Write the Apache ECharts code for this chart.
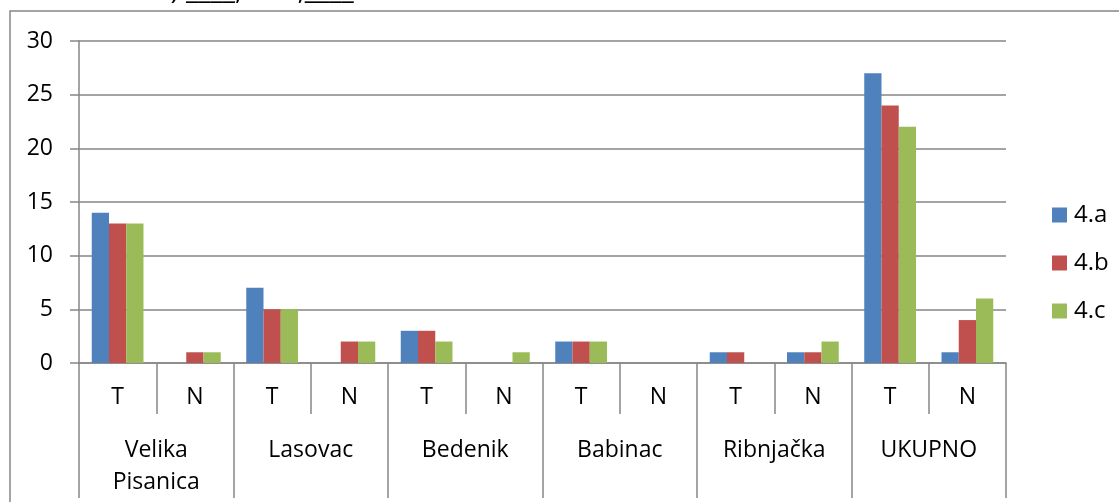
<!DOCTYPE html>
<html><head><meta charset="utf-8">
<script src="https://cdn.jsdelivr.net/npm/echarts@6/dist/echarts.min.js"></script>
<style>html,body{margin:0;padding:0;background:#fff}#c{width:1119px;height:502px}</style>
</head><body><div id="c"></div>
<script>
const groups = ['Velika\nPisanica', 'Lasovac', 'Bedenik', 'Babinac', 'Ribnjačka', 'UKUPNO'];
const subCats = ['T', 'N'];
const seriesNames = ['4.a', '4.b', '4.c'];
const s4a = [14, 0, 7, 0, 3, 0, 2, 0, 1, 1, 27, 1];
const s4b = [13, 1, 5, 2, 3, 0, 2, 0, 1, 1, 24, 4];
const s4c = [13, 1, 5, 2, 2, 1, 2, 0, 0, 2, 22, 6];
const yTicks = [0, 5, 10, 15, 20, 25, 30];
const colors = ['#4F81BD', '#C0504D', '#9BBB59'];

const cats = [];
groups.forEach(() => subCats.forEach(s => cats.push(s)));
const FONT = 'Open Sans';
const gray = '#868686';
const chart = echarts.init(document.getElementById('c'));
chart.setOption({
  animation: false,
  textStyle: { fontFamily: FONT },
  grid: { left: 79, right: 113, top: 41, bottom: 139, containLabel: false },
  legend: {
    orient: 'vertical', left: 1047, top: 197, itemWidth: 15, itemHeight: 15, itemGap: 22,
    icon: 'rect',
    textStyle: { fontFamily: FONT, fontSize: 24, color: '#000', padding: [0, 0, 0, 2], lineHeight: 26 },
    data: seriesNames
  },
  graphic: [
    { type: 'rect', shape: { x: 10, y: 11, width: 1300, height: 700 }, style: { fill: 'none', stroke: gray, lineWidth: 1.5 }, silent: true },
    { type: 'text', left: 157, top: -23, style: { text: 'c) ____, 300,____', font: '28px "Open Sans"', fill: '#000' } }
  ],
  xAxis: [
    {
      type: 'category', data: cats, position: 'bottom',
      axisLine: { lineStyle: { color: gray, width: 1.5 } },
      axisTick: { show: true, interval: 0, length: 51, lineStyle: { color: gray, width: 1.5 } },
      axisLabel: { interval: 0, margin: 23, fontSize: 23, color: '#000', fontFamily: FONT }
    },
    {
      type: 'category', data: groups, position: 'bottom', offset: 51,
      axisLine: { show: false },
      axisTick: { show: true, interval: 0, length: 84, lineStyle: { color: gray, width: 1.5 } },
      axisLabel: { interval: 0, margin: 20, fontSize: 23, color: '#000', fontFamily: FONT, lineHeight: 32, verticalAlign: 'top' }
    }
  ],
  yAxis: {
    type: 'value', min: 0, max: 30, interval: 5,
    axisLine: { show: true, lineStyle: { color: gray, width: 1.5 } },
    axisTick: { show: true, length: 9, lineStyle: { color: gray, width: 1.5 } },
    splitLine: { lineStyle: { color: gray, width: 1.5 } },
    axisLabel: { fontSize: 23, color: '#000', fontFamily: FONT, margin: 26,
      formatter: v => yTicks.includes(v) ? String(v) : '' }
  },
  series: [s4a, s4b, s4c].map((d, i) => ({
    name: seriesNames[i], type: 'bar', data: d, xAxisIndex: 0,
    barGap: '0%', barCategoryGap: '33%',
    itemStyle: { color: colors[i] }
  }))
});
</script></body></html>
